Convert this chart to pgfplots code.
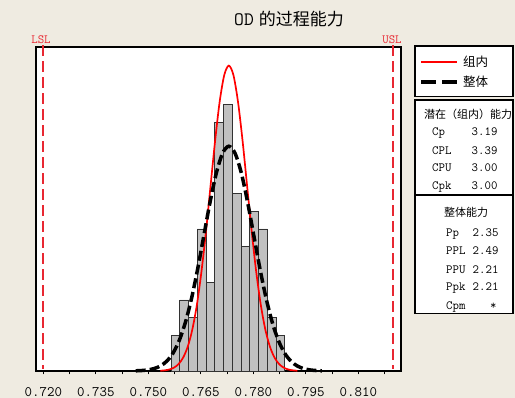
\documentclass[border=0pt]{standalone}
\usepackage{pgfplots}
\pgfplotsset{compat=1.18}
\usepackage{fontspec}
\newfontfamily\cjk{Noto Sans CJK SC}
\definecolor{bgc}{RGB}{239,235,225}
\definecolor{histgray}{RGB}{192,192,192}
\definecolor{histedge}{RGB}{50,50,50}
\definecolor{specred}{RGB}{232,40,50}
\newcommand\st{\fontsize{12.5}{13}\selectfont\ttfamily}
\newcommand\stc{\fontsize{11}{12}\selectfont\cjk}
\begin{document}
\begin{tikzpicture}[x=1pt,y=1pt]
\path[use as bounding box] (0,0) rectangle (515,398);
\fill[bgc] (0,0) rectangle (515,398);
\begin{axis}[
  at={(36pt,27pt)}, anchor=south west,
  scale only axis, width=365pt, height=324pt,
  xmin=0.7179, xmax=0.8222, ymin=0, ymax=18.25,
  axis background/.style={fill=white},
  axis line style={line width=1.3pt},
  ytick=\empty,
  xtick={0.72,0.735,0.75,0.765,0.78,0.795,0.81},
  xticklabels={0.720,0.735,0.750,0.765,0.780,0.795,0.810},
  minor xtick={0.7275,0.7425,0.7575,0.7725,0.7875,0.8025,0.8175},
  xtick pos=bottom, tick align=outside,
  major tick length=3.5pt, minor tick length=3.5pt,
  every tick/.style={black, line width=1pt},
  xticklabel style={font=\fontsize{14.5}{14.5}\selectfont\ttfamily, yshift=-9pt},
  clip=false,
]
\addplot[ybar interval, fill=histgray, draw=histedge, line width=0.9pt] coordinates {
(0.7565,2)(0.759,4)(0.7615,3)(0.764,8)(0.7665,5)(0.769,14)(0.7715,15)(0.774,10)(0.7765,7)(0.779,9)(0.7815,8)(0.784,3)(0.7865,2)(0.789,2)};
\addplot[red, line width=1.7pt, smooth] coordinates {
(0.75343,0.015)(0.75473,0.038)(0.75604,0.088)(0.75734,0.191)(0.75865,0.392)(0.75995,0.756)(0.76126,1.368)(0.76256,2.328)(0.76387,3.720)(0.76517,5.584)(0.76648,7.875)(0.76778,10.432)(0.76909,12.983)(0.77039,15.179)(0.77170,16.671)(0.773,17.2)(0.77431,16.671)(0.77561,15.179)(0.77692,12.983)(0.77822,10.432)(0.77953,7.875)(0.78083,5.584)(0.78214,3.720)(0.78344,2.328)(0.78475,1.368)(0.78605,0.756)(0.78736,0.392)(0.78866,0.191)(0.78997,0.088)(0.79127,0.038)(0.79258,0.015)};
\addplot[black, line width=3.5pt, dash pattern=on 10pt off 4pt, smooth] coordinates {
(0.74641,0.011)(0.74819,0.028)(0.74996,0.064)(0.75173,0.141)(0.75350,0.289)(0.75528,0.556)(0.75705,1.007)(0.75882,1.713)(0.76059,2.738)(0.76237,4.110)(0.76414,5.796)(0.76591,7.679)(0.76768,9.556)(0.76946,11.172)(0.77123,12.270)(0.773,12.66)(0.77477,12.270)(0.77655,11.172)(0.77832,9.556)(0.78009,7.679)(0.78186,5.796)(0.78364,4.110)(0.78541,2.738)(0.78718,1.713)(0.78895,1.007)(0.79073,0.556)(0.79250,0.289)(0.79427,0.141)(0.79604,0.064)(0.79782,0.028)(0.79959,0.011)};
\addplot[draw=specred, solid, line width=2.2pt, dash pattern=on 11pt off 5pt, forget plot] coordinates {(0.72,18.35)(0.72,0.1)};
\addplot[draw=specred, solid, line width=2.2pt, dash pattern=on 11pt off 5pt, forget plot] coordinates {(0.82,18.35)(0.82,0.1)};
\end{axis}
% title
\node at (289,379) {\fontsize{19}{19}\selectfont\ttfamily OD\hspace{5pt}{\fontsize{17}{17}\selectfont\cjk 的过程能力}};
% spec labels
\node[text=specred] at (41,358) {\fontsize{12.5}{12.5}\selectfont\ttfamily LSL};
\node[text=specred] at (392,358) {\fontsize{12.5}{12.5}\selectfont\ttfamily USL};
% legend box
\draw[fill=white, line width=1.3pt] (415,301.3) rectangle (513,352);
\draw[red, line width=2pt] (421,336) -- (457,336);
\node[anchor=west, inner sep=0pt] at (463,336) {\fontsize{12.5}{13}\selectfont\cjk 组内};
\draw[black, line width=3.3pt, dash pattern=on 15pt off 6pt] (421,316) -- (457,316);
\node[anchor=west, inner sep=0pt] at (463,316) {\fontsize{12.5}{13}\selectfont\cjk 整体};
% stats box
\draw[fill=white, line width=1.3pt] (415,84.7) rectangle (513,298);
\draw[line width=1.3pt] (415,203) -- (513,203);
\node at (468,284) {\stc 潜在（组内）能力};
\node[anchor=base west, inner sep=0pt] at (432,262.5) {\st Cp};
\node[anchor=base west, inner sep=0pt] at (471.5,262.5) {\st 3.19};
\node[anchor=base west, inner sep=0pt] at (432,243.5) {\st CPL};
\node[anchor=base west, inner sep=0pt] at (471.5,243.5) {\st 3.39};
\node[anchor=base west, inner sep=0pt] at (432,226.5) {\st CPU};
\node[anchor=base west, inner sep=0pt] at (471.5,226.5) {\st 3.00};
\node[anchor=base west, inner sep=0pt] at (432,208.5) {\st Cpk};
\node[anchor=base west, inner sep=0pt] at (471.5,208.5) {\st 3.00};
\node at (466,185.3) {\stc 整体能力};
\node[anchor=base west, inner sep=0pt] at (446,161.5) {\st Pp};
\node[anchor=base west, inner sep=0pt] at (472.5,161.5) {\st 2.35};
\node[anchor=base west, inner sep=0pt] at (446,143.5) {\st PPL};
\node[anchor=base west, inner sep=0pt] at (472.5,143.5) {\st 2.49};
\node[anchor=base west, inner sep=0pt] at (446,124.5) {\st PPU};
\node[anchor=base west, inner sep=0pt] at (472.5,124.5) {\st 2.21};
\node[anchor=base west, inner sep=0pt] at (446,107.5) {\st Ppk};
\node[anchor=base west, inner sep=0pt] at (472.5,107.5) {\st 2.21};
\node[anchor=base west, inner sep=0pt] at (446,88.5) {\st Cpm};
\node[anchor=base west, inner sep=0pt] at (490,88.5) {\st *};
\end{tikzpicture}
\end{document}
